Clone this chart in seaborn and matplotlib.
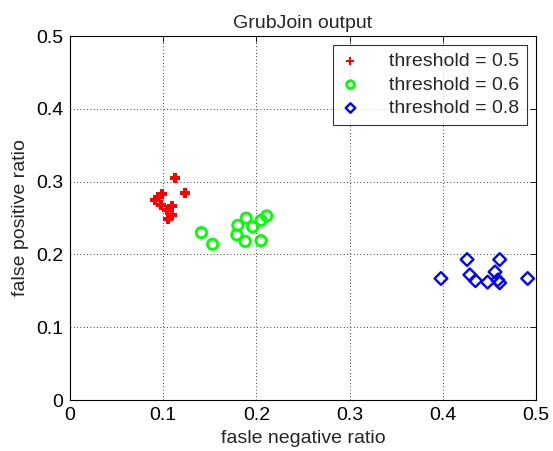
import numpy as np
import pandas as pd
import seaborn as sns
import matplotlib
matplotlib.use('Agg')
import matplotlib.pyplot as plt

fn_05 = [0.113, 0.123, 0.099, 0.094, 0.091, 0.098, 0.109, 0.104, 0.109, 0.105]
fp_05 = [0.305, 0.284, 0.283, 0.279, 0.275, 0.268, 0.267, 0.261, 0.254, 0.249]
fn_06 = [0.141, 0.153, 0.179, 0.180, 0.189, 0.188, 0.196, 0.205, 0.211, 0.205]
fp_06 = [0.230, 0.214, 0.227, 0.240, 0.250, 0.218, 0.238, 0.247, 0.253, 0.219]
fn_08 = [0.398, 0.426, 0.429, 0.435, 0.448, 0.456, 0.461, 0.459, 0.461, 0.491]
fp_08 = [0.167, 0.193, 0.172, 0.164, 0.162, 0.176, 0.193, 0.165, 0.161, 0.167]
labels = ['threshold = 0.5', 'threshold = 0.6', 'threshold = 0.8']

df = pd.DataFrame({
    'fn': fn_05 + fn_06 + fn_08,
    'fp': fp_05 + fp_06 + fp_08,
    'thr': [labels[0]] * len(fn_05) + [labels[1]] * len(fn_06) + [labels[2]] * len(fn_08),
})

sns.set_style('white')
plt.rcParams['font.family'] = ['Liberation Sans', 'DejaVu Sans']
plt.rcParams['xtick.direction'] = 'in'
plt.rcParams['ytick.direction'] = 'in'

fig = plt.figure(figsize=(5.53, 4.51), dpi=100)
ax = fig.add_axes([0.1266, 0.113, 0.8427, 0.807])

for lab in labels:
    sub = df[df.thr == lab]
    if lab == labels[0]:
        sns.scatterplot(data=sub, x='fn', y='fp', ax=ax, marker='P', color='#ff0000',
                        s=48, linewidth=0, label=lab)
    elif lab == labels[1]:
        sns.scatterplot(data=sub, x='fn', y='fp', ax=ax, marker='o', facecolors='none',
                        edgecolor='#00ff00', s=55, linewidth=2.0, label=lab)
    else:
        sns.scatterplot(data=sub, x='fn', y='fp', ax=ax, marker='D', facecolors='none',
                        edgecolor='#0000ff', s=42, linewidth=1.7, label=lab)

ticks = [0, 0.1, 0.2, 0.3, 0.4, 0.5]
tick_labels = ['0', '0.1', '0.2', '0.3', '0.4', '0.5']
ax.set_xlim(0, 0.5)
ax.set_ylim(0, 0.5)
ax.set_xticks(ticks)
ax.set_yticks(ticks)
ax.set_xticklabels(tick_labels)
ax.set_yticklabels(tick_labels)
ax.tick_params(labelsize=14, top=True, right=True, length=4, width=0.6, colors='black', pad=5)
ax.grid(True, linestyle=(0, (1, 3)), color='black', linewidth=0.6)
for s in ax.spines.values():
    s.set_color('black')
    s.set_linewidth(0.8)
ax.set_xlabel('fasle negative ratio', fontsize=14, labelpad=4)
ax.set_ylabel('false positive ratio', fontsize=14, labelpad=5)
ax.set_title('GrubJoin output', fontsize=14, pad=6)

leg = ax.legend(loc='upper right', fontsize=14, frameon=True, fancybox=False,
                edgecolor='black', borderaxespad=0.45, handlelength=1.0,
                handletextpad=1.5, labelspacing=0.3, borderpad=0.4, markerscale=0.75)
leg.get_frame().set_linewidth(0.8)

fig.savefig('out.png', dpi=100)
